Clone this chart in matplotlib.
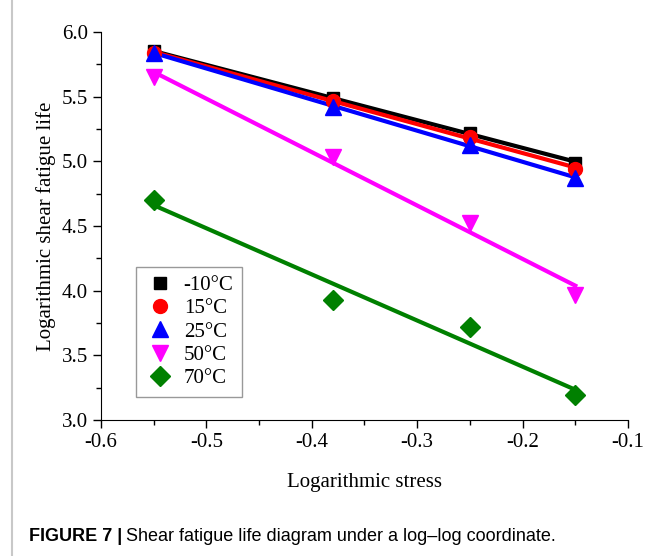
import numpy as np
import matplotlib.pyplot as plt
from matplotlib.lines import Line2D
from matplotlib.ticker import MultipleLocator

# datos
stress = [-0.55, -0.38, -0.25, -0.15]
temps = ['-10°C', '15°C', '25°C', '50°C', '70°C']
life_m10 = [5.85, 5.49, 5.22, 4.99]
life_15 = [5.84, 5.47, 5.19, 4.94]
life_25 = [5.84, 5.42, 5.13, 4.87]
life_50 = [5.65, 5.03, 4.52, 3.97]
life_70 = [4.70, 3.93, 3.72, 3.19]

series = [life_m10, life_15, life_25, life_50, life_70]
colores = ['black', 'red', 'blue', 'magenta', 'green']
marcas = ['s', 'o', '^', 'v', 'D']
tamanos = [9, 10, 11, 11, 10]

plt.rcParams['font.family'] = 'Liberation Serif'

fig = plt.figure(figsize=(6.62, 5.56), dpi=100)
ax = fig.add_axes([101 / 662, 136 / 556, 527 / 662, 388 / 556])

x = np.array(stress)
for vals, c, m, s, lab in zip(series, colores, marcas, tamanos, temps):
    # recta de ajuste
    k, b = np.polyfit(x, vals, 1)
    ax.plot(x[[0, -1]], k * x[[0, -1]] + b, '-', color=c, lw=3, zorder=2)
    ax.plot(x, vals, m, color=c, ms=s, label=lab, zorder=3)

ax.set_xlim(-0.6, -0.1)
ax.set_ylim(3.0, 6.0)
ax.set_xticks(np.arange(-0.6, -0.05, 0.1))
ax.set_xticklabels(['-0.6', '-0.5', '-0.4', '-0.3', '-0.2', '-0.1'])
ax.xaxis.set_minor_locator(MultipleLocator(0.05))
ax.yaxis.set_major_locator(MultipleLocator(0.5))
ax.yaxis.set_minor_locator(MultipleLocator(0.25))
ax.yaxis.set_major_formatter(plt.FormatStrFormatter('%.1f'))
ax.tick_params(which='major', direction='out', length=6, width=1, labelsize=15)
ax.tick_params(which='minor', direction='out', length=3.5, width=1)
ax.spines['top'].set_visible(False)
ax.spines['right'].set_visible(False)
ax.set_xlabel('Logarithmic stress', fontsize=15, labelpad=15)
ax.set_ylabel('Logarithmic shear fatigue life', fontsize=15, labelpad=4)

leg = ax.legend(loc='lower left', bbox_to_anchor=(0.066, 0.06), fontsize=15,
                frameon=True, fancybox=False, edgecolor='gray', handletextpad=0.4,
                labelspacing=0.18, borderpad=0.4, handlelength=1.5,
                borderaxespad=0)
leg.get_frame().set_linewidth(1)

# marco gris a la izquierda
fig.add_artist(Line2D([12 / 662, 12 / 662], [0, 1], color='#c8c8c8', lw=1.5))

# pie de figura
t1 = fig.text(29 / 662, 15 / 556, 'FIGURE 7 |', fontsize=13, fontweight='bold',
              family='Liberation Sans', va='baseline')
fig.canvas.draw()
bb = t1.get_window_extent()
fig.text((bb.x1 + 4) / 662, 15 / 556,
         'Shear fatigue life diagram under a log\u2013log coordinate.',
         fontsize=13, family='Liberation Sans', va='baseline')

fig.savefig('out.png', dpi=100)
